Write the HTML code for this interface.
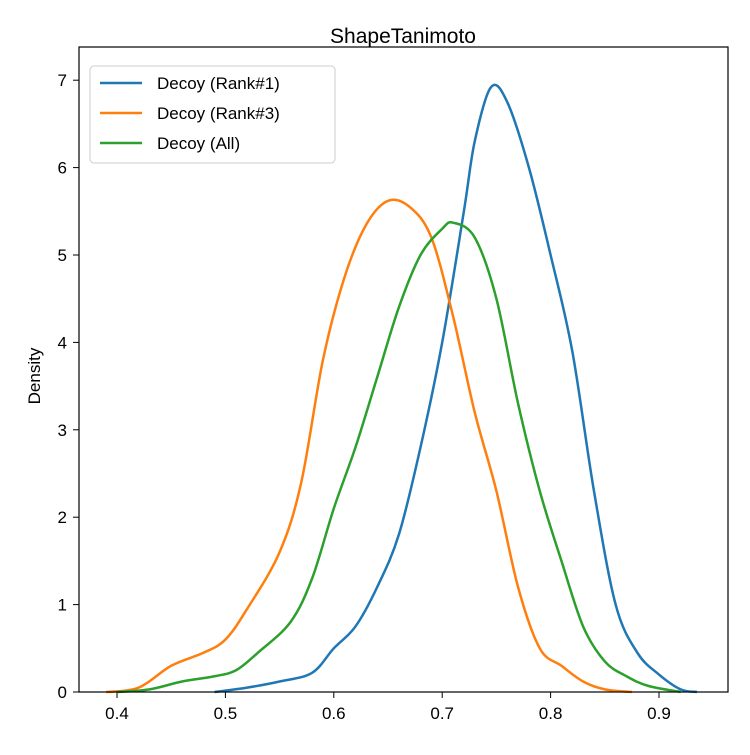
<!DOCTYPE html>
<html><head><meta charset="utf-8"><style>
body{margin:0;background:#fff;}
svg text{font-family:"Liberation Sans","DejaVu Sans",sans-serif;fill:#000;}
</style></head><body>
<svg id="chart" width="750" height="750">
<text x="403" y="43" font-size="21" text-anchor="middle">ShapeTanimoto</text>
<text transform="translate(40,376) rotate(-90)" font-size="17" text-anchor="middle">Density</text>
<g id="axes"></g>
<g id="series"></g>
<rect x="79" y="47" width="649" height="645" fill="none" stroke="#000" stroke-width="1.2"/>
<g>
<rect x="90" y="66" width="245" height="97" rx="4" fill="#fff" stroke="#ccc"/>
<line x1="100" x2="142" y1="83" y2="83" stroke="#1f77b4" stroke-width="2.5"/>
<text x="157" y="89" font-size="17">Decoy (Rank#1)</text>
<line x1="100" x2="142" y1="113" y2="113" stroke="#ff7f0e" stroke-width="2.5"/>
<text x="157" y="119" font-size="17">Decoy (Rank#3)</text>
<line x1="100" x2="142" y1="143" y2="143" stroke="#2ca02c" stroke-width="2.5"/>
<text x="157" y="149" font-size="17">Decoy (All)</text>
</g>
</svg>
<script>
const xTicks=[0.4,0.5,0.6,0.7,0.8,0.9];
const yTicks=[0,1,2,3,4,5,6,7];
const rank1X=[0.49,0.52,0.55,0.58,0.60,0.62,0.64,0.66,0.68,0.70,0.72,0.73,0.745,0.76,0.78,0.80,0.82,0.84,0.86,0.88,0.90,0.92,0.935];
const rank1Y=[0,0.05,0.12,0.22,0.5,0.75,1.2,1.8,2.8,4.0,5.5,6.3,6.92,6.75,6.0,5.0,3.9,2.3,1.0,0.45,0.2,0.03,0];
const rank3X=[0.39,0.42,0.45,0.48,0.50,0.52,0.55,0.57,0.59,0.61,0.63,0.65,0.67,0.69,0.71,0.73,0.75,0.77,0.79,0.81,0.83,0.85,0.875];
const rank3Y=[0,0.05,0.3,0.45,0.6,0.95,1.6,2.4,3.8,4.75,5.35,5.62,5.55,5.2,4.3,3.2,2.3,1.2,0.5,0.3,0.12,0.03,0];
const allX=[0.40,0.43,0.46,0.49,0.51,0.53,0.56,0.58,0.60,0.62,0.64,0.66,0.68,0.70,0.71,0.73,0.75,0.77,0.79,0.81,0.83,0.85,0.87,0.89,0.92];
const allY=[0,0.03,0.12,0.18,0.25,0.45,0.8,1.3,2.1,2.8,3.6,4.4,5.0,5.3,5.37,5.2,4.5,3.3,2.3,1.5,0.75,0.35,0.18,0.07,0];
const NS='http://www.w3.org/2000/svg';
function sx(v){return 117+(v-0.4)*1084;}
function sy(v){return 692-v*87.4;}
const axes=document.getElementById('axes');
xTicks.forEach(t=>{
 const l=document.createElementNS(NS,'line');
 l.setAttribute('x1',sx(t));l.setAttribute('x2',sx(t));l.setAttribute('y1',692);l.setAttribute('y2',698);l.setAttribute('stroke','#000');
 
 
 axes.appendChild(l);
 const tx=document.createElementNS(NS,'text');
 tx.setAttribute('x',sx(t));tx.setAttribute('y',719);tx.setAttribute('font-size','17');tx.setAttribute('text-anchor','middle');
 tx.textContent=t.toFixed(1);
 
 
 axes.appendChild(tx);
});
yTicks.forEach(t=>{
 const l=document.createElementNS(NS,'line');
 l.setAttribute('x1',73);l.setAttribute('x2',79);l.setAttribute('y1',sy(t));l.setAttribute('y2',sy(t));l.setAttribute('stroke','#000');
 
 
 axes.appendChild(l);
 const tx=document.createElementNS(NS,'text');
 tx.setAttribute('x',67);tx.setAttribute('y',sy(t)+6);tx.setAttribute('font-size','17');tx.setAttribute('text-anchor','end');
 tx.textContent=t;
 
 
 axes.appendChild(tx);
});
function pathFor(xs,ys){
 const p=xs.map((x,i)=>[sx(x),sy(ys[i])]);
 let d='M'+p[0][0]+','+p[0][1];
 for(let i=0;i<p.length-1;i++){
  const p0=p[i-1]||p[i],p1=p[i],p2=p[i+1],p3=p[i+2]||p2;
  const c1=[p1[0]+(p2[0]-p0[0])/6,p1[1]+(p2[1]-p0[1])/6];
  const c2=[p2[0]-(p3[0]-p1[0])/6,p2[1]-(p3[1]-p1[1])/6];
  d+=' C'+c1+' '+c2+' '+p2;
 }
 return d;
}
const series=document.getElementById('series');
[[rank1X,rank1Y,'#1f77b4','curve-rank1'],[rank3X,rank3Y,'#ff7f0e','curve-rank3'],[allX,allY,'#2ca02c','curve-all']].forEach(s=>{
 const p=document.createElementNS(NS,'path');
 p.setAttribute('d',pathFor(s[0],s[1]));
 p.setAttribute('fill','none');p.setAttribute('stroke',s[2]);p.setAttribute('stroke-width','2.5');
 
 
 series.appendChild(p);
});
</script>
</body></html>
